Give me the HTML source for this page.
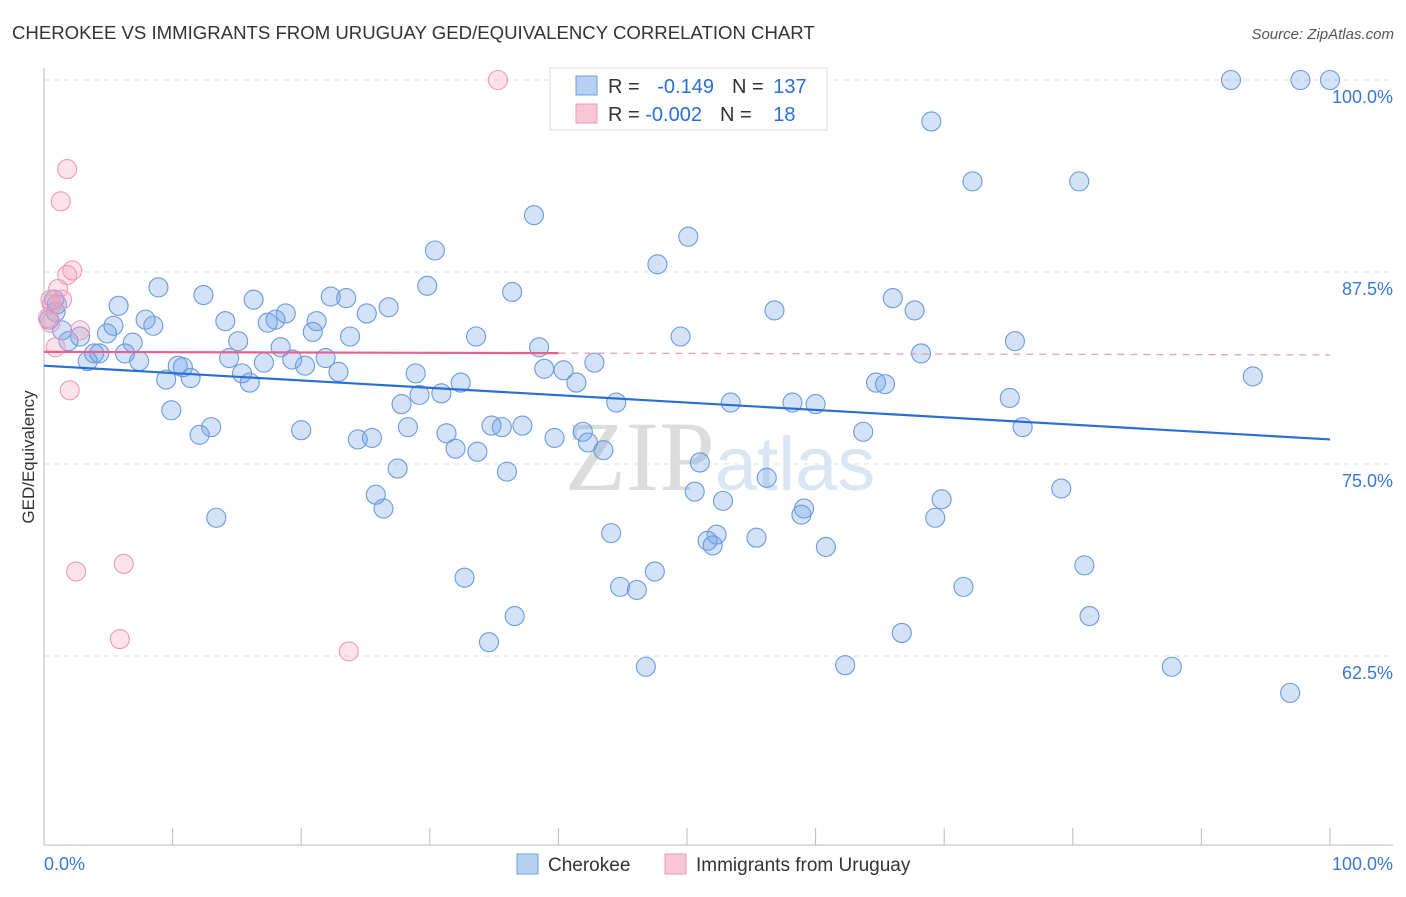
<!DOCTYPE html>
<html><head><meta charset="utf-8"><style>
body{margin:0;background:#fff;font-family:"Liberation Sans",sans-serif;}
svg text{font-family:"Liberation Sans",sans-serif;}
</style></head><body>
<svg id="chart" width="1406" height="892" xmlns="http://www.w3.org/2000/svg">
<text x="12" y="39" font-size="18.6" fill="#333">CHEROKEE VS IMMIGRANTS FROM URUGUAY GED/EQUIVALENCY CORRELATION CHART</text>
<text x="1394" y="39" font-size="15" fill="#555" font-style="italic" text-anchor="end">Source: ZipAtlas.com</text>
<text x="720" y="490" font-size="100" fill="#e4e4e4" text-anchor="middle" font-family="Liberation Serif"><tspan fill="#dcdcdc" font-family="Liberation Serif">ZIP</tspan><tspan fill="#dbe6f4" font-family="Liberation Sans" font-size="76">atlas</tspan></text>
<g id="grid"></g>
<g id="axes"></g>
<g id="pts"></g>
<g id="trends"></g>
<text transform="translate(34,457) rotate(-90)" font-size="17" fill="#333" text-anchor="middle">GED/Equivalency</text>
<g>
<rect x="550" y="68" width="277" height="62" fill="#fff" stroke="#ddd"/>
<rect x="576" y="76" width="21" height="19" fill="#b8d1f3" stroke="#6a9be0"/>
<rect x="576" y="104" width="21" height="19" fill="#f9c6d6" stroke="#ec9ab6"/>
<text x="608" y="93" font-size="20" fill="#333">R = <tspan fill="#2a6fd6" dx="12">-0.149</tspan><tspan dx="18">N = </tspan><tspan fill="#2a6fd6" dx="4">137</tspan></text>
<text x="608" y="121" font-size="20" fill="#333">R = <tspan fill="#2a6fd6" dx="0">-0.002</tspan><tspan dx="18">N = </tspan><tspan fill="#2a6fd6" dx="16">18</tspan></text>
</g>
<g>
<rect x="517" y="854" width="21" height="20" fill="#b8d1f3" stroke="#6a9be0"/>
<text x="548" y="871" font-size="19" fill="#333">Cherokee</text>
<rect x="665" y="854" width="21" height="20" fill="#f9c6d6" stroke="#ec9ab6"/>
<text x="696" y="871" font-size="19" fill="#333">Immigrants from Uruguay</text>
</g>
</svg>
<script>
const blueX=[92.3,97.7,100,53.7,69.0,72.2,80.5,38.1,50.1,30.4,47.7,8.9,12.4,5.8,16.3,22.3,23.5,29.8,36.4,26.8,66.0,67.7,56.8,18.8,18.0,21.2,25.1,14.1,17.4,7.9,8.5,5.4,0.8,0.9,0.4,1.4,2.8,4.9,1.9,6.9,15.1,20.9,23.8,33.6,49.5,75.5,3.9,6.3,3.4,7.4,14.4,18.4,19.3,21.9,20.3,17.1,10.4,10.8,38.5,42.8,40.4,38.9,68.2,9.5,11.4,15.4,16.0,22.9,28.9,32.4,41.4,64.7,65.4,94.0,29.2,30.9,27.8,44.5,53.4,58.2,60.0,75.1,9.9,13.0,12.1,20.0,24.4,25.5,28.3,31.3,34.8,35.6,37.2,39.7,41.9,42.3,43.5,32.0,33.7,63.7,76.1,51.0,27.5,36.0,56.2,25.8,50.6,52.8,69.8,79.1,26.4,59.1,58.9,13.4,69.3,44.1,52.3,51.6,52.0,55.4,60.8,47.5,80.9,32.7,44.8,46.1,71.5,36.6,81.3,34.6,66.7,46.8,62.3,87.7,96.9,1.0,4.3];
const blueY=[100,100,100,100,97.3,93.4,93.4,91.2,89.8,88.9,88.0,86.5,86.0,85.3,85.7,85.9,85.8,86.6,86.2,85.2,85.8,85.0,85.0,84.8,84.4,84.3,84.8,84.3,84.2,84.4,84.0,84.0,85.7,84.9,84.4,83.7,83.3,83.5,83.0,82.9,83.0,83.6,83.3,83.3,83.3,83.0,82.2,82.2,81.7,81.7,81.9,82.6,81.8,81.9,81.4,81.6,81.4,81.3,82.6,81.6,81.1,81.2,82.2,80.5,80.6,80.9,80.3,81.0,80.9,80.3,80.3,80.3,80.2,80.7,79.5,79.6,78.9,79.0,79.0,79.0,78.9,79.3,78.5,77.4,76.9,77.2,76.6,76.7,77.4,77.0,77.5,77.4,77.5,76.7,77.1,76.4,75.9,76.0,75.8,77.1,77.4,75.1,74.7,74.5,74.1,73.0,73.2,72.6,72.7,73.4,72.1,72.1,71.7,71.5,71.5,70.5,70.4,70.0,69.7,70.2,69.6,68.0,68.4,67.6,67.0,66.8,67.0,65.1,65.1,63.4,64.0,61.8,61.9,61.8,60.1,85.4,82.2];
const pinkX=[35.3,1.8,1.3,2.2,1.8,1.1,1.4,0.6,0.3,0.5,2.8,0.9,2.0,2.5,6.2,5.9,23.7,0.5];
const pinkY=[100,94.2,92.1,87.6,87.3,86.4,85.7,85.4,84.5,84.2,83.7,82.6,79.8,68.0,68.5,63.6,62.8,85.7];
const blueTrend=[81.4,76.6];
const pinkTrend=[82.3,82.1];
const pinkSolidEnd=40;
const yTicks=[100,87.5,75,62.5];
const yTickLabels=["100.0%","87.5%","75.0%","62.5%"];
const xTicks=[0,10,20,30,40,50,60,70,80,90,100];

const NS="http://www.w3.org/2000/svg";
const X0=44,X1=1330,Y100=80,PXPER=192/12.5;
function sx(v){return X0+(v/100)*(X1-X0);}
function sy(v){return Y100+(100-v)*PXPER;}
function mk(tag,attrs,parent){const e=document.createElementNS(NS,tag);for(const k in attrs)e.setAttribute(k,attrs[k]);parent.appendChild(e);return e;}
const grid=document.getElementById('grid'),axes=document.getElementById('axes'),pts=document.getElementById('pts'),trends=document.getElementById('trends');
yTicks.forEach((t,i)=>{
 const l=mk('line',{x1:X0,x2:1393,y1:sy(t),y2:sy(t),stroke:'#ddd','stroke-dasharray':'5,5'},grid);
 
 
 const tx=mk('text',{x:1393,y:sy(t)+23,'font-size':18,fill:'#3a78d8','text-anchor':'end'},grid);
 tx.textContent=yTickLabels[i];
 
 
});
mk('line',{x1:X0,x2:X0,y1:68,y2:845,stroke:'#bbb'},axes);
mk('line',{x1:X0,x2:1393,y1:845,y2:845,stroke:'#bbb'},axes);
xTicks.forEach(t=>{
 const l=mk('line',{x1:sx(t),x2:sx(t),y1:828,y2:845,stroke:'#bbb'},axes);
 
 
});
const xl=mk('text',{x:44,y:870,'font-size':18,fill:'#3a78d8'},axes);xl.textContent='0.0%';


const xr=mk('text',{x:1393,y:870,'font-size':18,fill:'#3a78d8','text-anchor':'end'},axes);xr.textContent='100.0%';


blueX.forEach((v,i)=>{
 const c=mk('circle',{cx:sx(v),cy:sy(blueY[i]),r:9.5,fill:'rgba(110,160,230,0.3)',stroke:'#6b9be0','stroke-width':1.1},pts);
 
 
});
pinkX.forEach((v,i)=>{
 const c=mk('circle',{cx:sx(v),cy:sy(pinkY[i]),r:9.5,fill:'rgba(245,160,190,0.3)',stroke:'#eb9cb8','stroke-width':1.1},pts);
 
 
});
const bl=mk('line',{x1:sx(0),y1:sy(blueTrend[0]),x2:sx(100),y2:sy(blueTrend[1]),stroke:'#2a6fd6','stroke-width':2.2},trends);


const pm=pinkTrend[0]+(pinkTrend[1]-pinkTrend[0])*pinkSolidEnd/100;
const ps=mk('line',{x1:sx(0),y1:sy(pinkTrend[0]),x2:sx(pinkSolidEnd),y2:sy(pm),stroke:'#e8608e','stroke-width':2.2},trends);


const pd=mk('line',{x1:sx(pinkSolidEnd),y1:sy(pm),x2:sx(100),y2:sy(pinkTrend[1]),stroke:'#eaa0b8','stroke-width':1.3,'stroke-dasharray':'7,6'},trends);


</script>
</body></html>
